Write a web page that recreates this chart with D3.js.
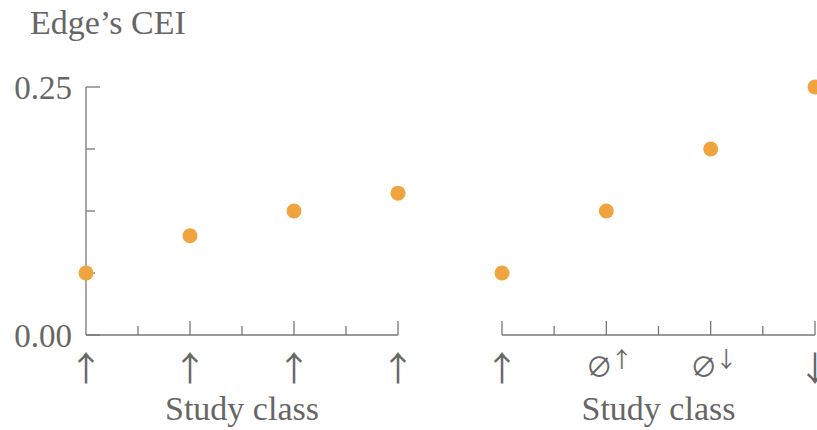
<!DOCTYPE html>
<html><head><meta charset="utf-8">
<script src="https://cdn.jsdelivr.net/npm/d3@7/dist/d3.min.js"></script>
<style>body{margin:0;background:#fff}svg{display:block}text{font-family:"Liberation Serif","Times New Roman",serif;fill:#666}text.sym{font-family:"Noto Sans CJK SC",sans-serif}</style>
</head><body><svg id="c" width="817" height="430"></svg>
<script>
const leftLabels = [["↑",""],["↑",""],["↑",""],["↑",""]];
const rightLabels = [["↑",""],["∅","↑"],["∅","↓"],["↓",""]];
const leftValues = [0.0625, 0.1, 0.125, 0.143];
const rightValues = [0.0625, 0.125, 0.1875, 0.25];
const yTicks = [0, 0.0625, 0.125, 0.1875, 0.25];
const yTickLabels = ["0.00", "", "", "", "0.25"];
const xTitle = "Study class";
const yTitle = "Edge’s CEI";

const svg = d3.select("#c");
const axisColor = "#777";
const dotColor = "#EFA43F";
const y = d3.scaleLinear().domain([0, 0.25]).range([335, 87]);

// y axis
svg.append("line").attr("x1",86).attr("x2",86).attr("y1",y(0)).attr("y2",y(0.25)).attr("stroke",axisColor).attr("stroke-width",1.3);
yTicks.forEach((t,i)=>{
  const len = (i===0||i===yTicks.length-1)?14:9;
  svg.append("line").attr("x1",86).attr("x2",86+len).attr("y1",y(t)).attr("y2",y(t)).attr("stroke",axisColor).attr("stroke-width",1.3);
  if(yTickLabels[i]) svg.append("text").attr("x",72).attr("y",y(t)).attr("dy","0.35em").attr("text-anchor","end").attr("font-size",33).text(yTickLabels[i]);
});
svg.append("text").attr("x",30).attr("y",34).attr("font-size",34).text(yTitle);

function panel(x0, x1, labels, values, isRight){
  const x = d3.scaleLinear().domain([0,3]).range([x0,x1]);
  svg.append("line").attr("x1",x0).attr("x2",x1).attr("y1",335).attr("y2",335).attr("stroke",axisColor).attr("stroke-width",1.3);
  d3.range(0,3.01,0.5).forEach(t=>{
    if(t===0 && !isRight) return;
    const len = Number.isInteger(t)?14:9;
    svg.append("line").attr("x1",x(t)).attr("x2",x(t)).attr("y1",335).attr("y2",335-len).attr("stroke",axisColor).attr("stroke-width",1.3);
  });
  labels.forEach((l,i)=>{
    const g = svg.append("text").attr("class","sym").attr("x",x(i)).attr("text-anchor","middle");
    if(l[1]){
      g.attr("y",377).attr("font-size",27).attr("dx",3);
      g.append("tspan").text(l[0]);
      g.append("tspan").attr("font-size",22).attr("dy",-10).attr("dx",-2).text(l[1]);
    } else {
      g.attr("y",381).attr("font-size",34).text(l[0]);
    }
  });
  svg.append("text").attr("x",(x0+x1)/2).attr("y",420).attr("text-anchor","middle").attr("font-size",34).text(xTitle);
  svg.selectAll(null).data(values).enter().append("circle")
    .attr("cx",(d,i)=>x(i)).attr("cy",d=>y(d)).attr("r",7.5).attr("fill",dotColor);
}
panel(86, 398, leftLabels, leftValues, false);
panel(502, 815, rightLabels, rightValues, true);
</script></body></html>
